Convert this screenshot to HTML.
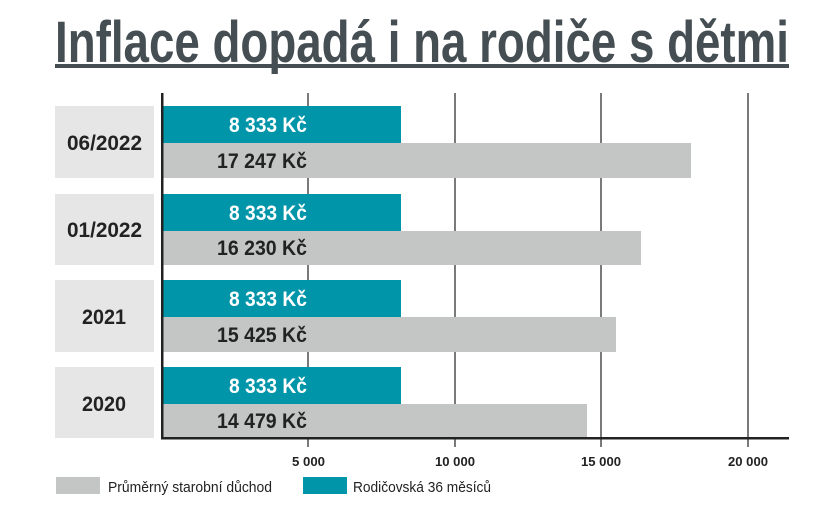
<!DOCTYPE html>
<html><head><meta charset="utf-8"><style>
html,body{margin:0;padding:0;background:#fff;width:814px;height:517px;overflow:hidden}
text{font-family:"Liberation Sans Narrow","Liberation Sans",sans-serif;font-weight:bold}
</style></head><body>
<svg width="814" height="517" xmlns="http://www.w3.org/2000/svg">
<text x="55" y="62" font-size="58" fill="#454e53" textLength="734" lengthAdjust="spacingAndGlyphs">Inflace dopadá i na rodiče s dětmi</text>
<rect x="55" y="64" width="734" height="4" fill="#454e53"/>
<g stroke="#222" stroke-width="1.2">
<line x1="308" y1="93" x2="308" y2="447"/>
<line x1="455" y1="93" x2="455" y2="447"/>
<line x1="601" y1="93" x2="601" y2="447"/>
<line x1="748" y1="93" x2="748" y2="447"/>
</g>
<g fill="#e6e6e6">
<rect x="55" y="106" width="99" height="72"/>
<rect x="55" y="194" width="99" height="71"/>
<rect x="55" y="280" width="99" height="72"/>
<rect x="55" y="367" width="99" height="71"/>
</g>
<g fill="#0095a8">
<rect x="162" y="106" width="239" height="37"/>
<rect x="162" y="194" width="239" height="37"/>
<rect x="162" y="280" width="239" height="37"/>
<rect x="162" y="367" width="239" height="37"/>
</g>
<g fill="#c4c6c6">
<rect x="162" y="143" width="529" height="35"/>
<rect x="162" y="231" width="479" height="34"/>
<rect x="162" y="317" width="454" height="35"/>
<rect x="162" y="404" width="425" height="34"/>
</g>
<rect x="161" y="93" width="2.5" height="346" fill="#222"/>
<rect x="161" y="437" width="628" height="2.5" fill="#222"/>
<g font-size="21" fill="#fff">
<text x="229" y="132" textLength="78" lengthAdjust="spacingAndGlyphs">8 333 Kč</text>
<text x="229" y="220" textLength="78" lengthAdjust="spacingAndGlyphs">8 333 Kč</text>
<text x="229" y="306" textLength="78" lengthAdjust="spacingAndGlyphs">8 333 Kč</text>
<text x="229" y="393" textLength="78" lengthAdjust="spacingAndGlyphs">8 333 Kč</text>
</g>
<g font-size="21" fill="#222">
<text x="217" y="168" textLength="90" lengthAdjust="spacingAndGlyphs">17 247 Kč</text>
<text x="217" y="255" textLength="90" lengthAdjust="spacingAndGlyphs">16 230 Kč</text>
<text x="217" y="342" textLength="90" lengthAdjust="spacingAndGlyphs">15 425 Kč</text>
<text x="217" y="428" textLength="90" lengthAdjust="spacingAndGlyphs">14 479 Kč</text>
</g>
<g font-size="21" fill="#222">
<text x="67" y="150" textLength="75" lengthAdjust="spacingAndGlyphs">06/2022</text>
<text x="67" y="237" textLength="75" lengthAdjust="spacingAndGlyphs">01/2022</text>
<text x="82" y="324" textLength="44" lengthAdjust="spacingAndGlyphs">2021</text>
<text x="82" y="411" textLength="44" lengthAdjust="spacingAndGlyphs">2020</text>
</g>
<g font-size="13" fill="#222">
<text x="292" y="466" textLength="33" lengthAdjust="spacingAndGlyphs">5 000</text>
<text x="435" y="466" textLength="40" lengthAdjust="spacingAndGlyphs">10 000</text>
<text x="581" y="466" textLength="40" lengthAdjust="spacingAndGlyphs">15 000</text>
<text x="728" y="466" textLength="40" lengthAdjust="spacingAndGlyphs">20 000</text>
</g>
<rect x="56" y="477" width="44" height="17" fill="#c4c6c6"/>
<text x="108" y="492" font-size="15" style="font-weight:normal" fill="#222" textLength="164" lengthAdjust="spacingAndGlyphs">Průměrný starobní důchod</text>
<rect x="303" y="477" width="44" height="17" fill="#0095a8"/>
<text x="353" y="492" font-size="15" style="font-weight:normal" fill="#222" textLength="138" lengthAdjust="spacingAndGlyphs">Rodičovská 36 měsíců</text>
</svg>
</body></html>
